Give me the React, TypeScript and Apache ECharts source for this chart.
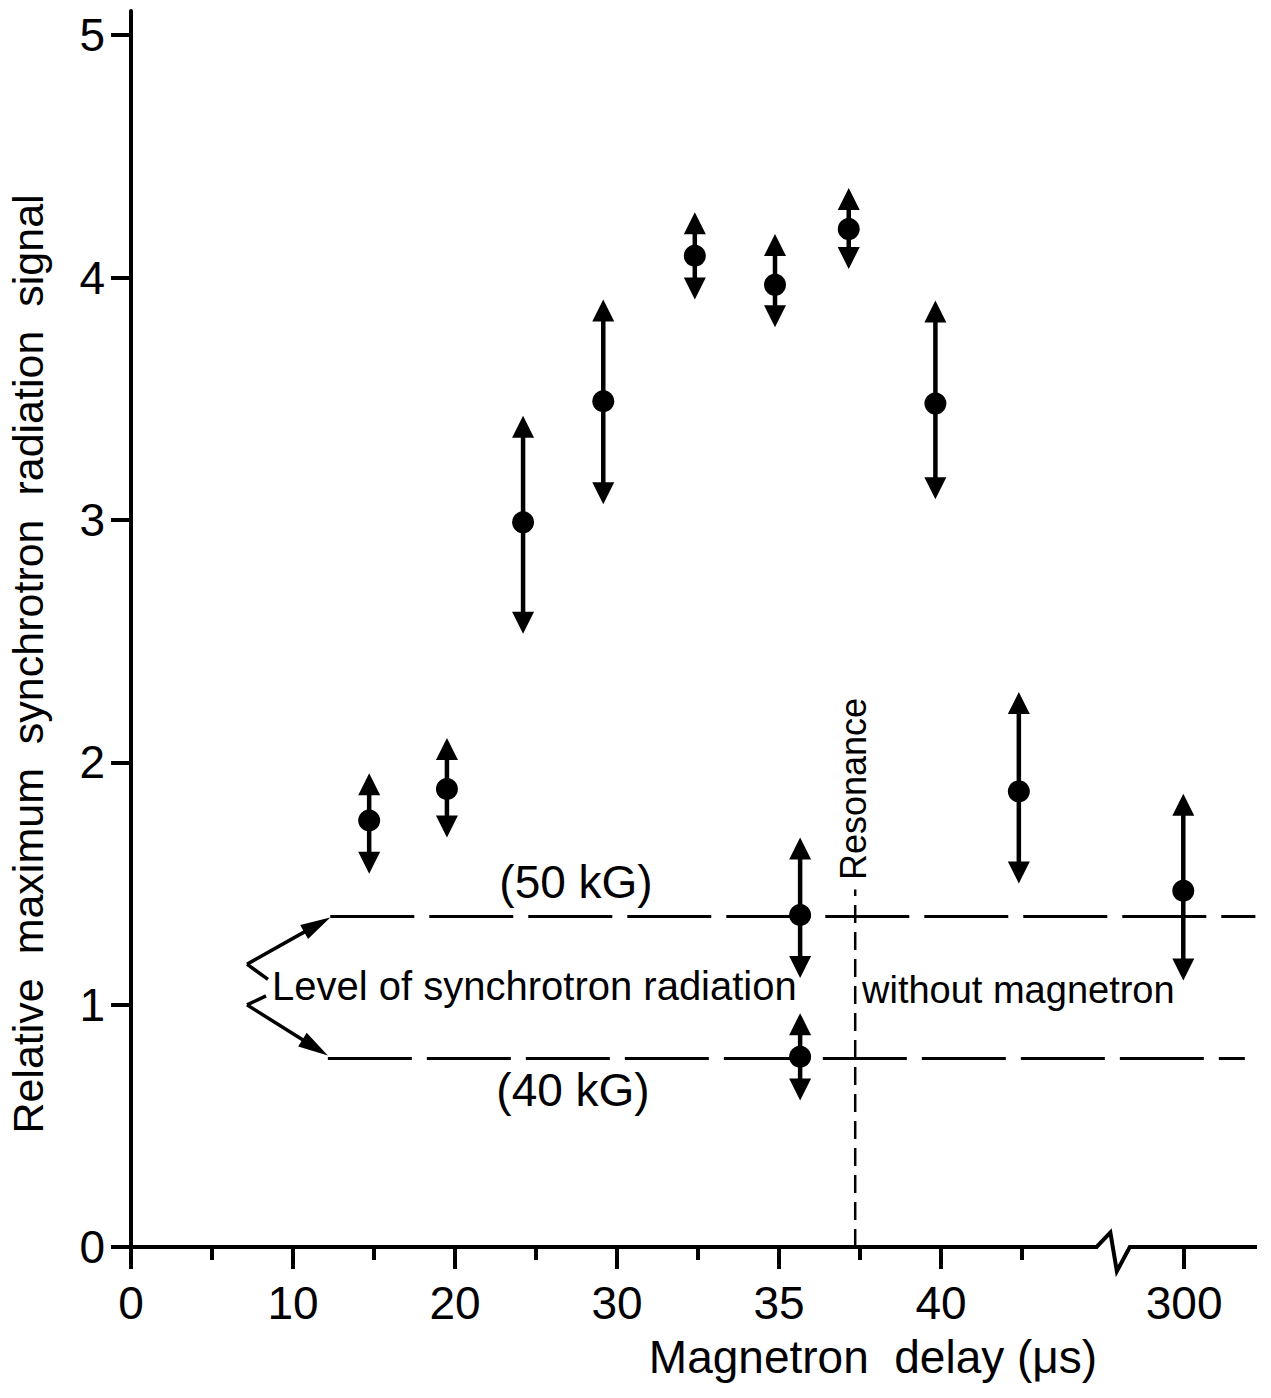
import React, { useEffect, useRef } from "react";
import * as echarts from "echarts";

// ---- data (x = slot position along the broken delay axis) ----
const xTickPositions = [0, 2, 4, 6, 8, 10, 13];
const xTickLabels = ["0", "10", "20", "30", "35", "40", "300"];
const xMinorTicks = [1, 3, 5, 7, 9, 11];
const yTicks = [0, 1, 2, 3, 4, 5];

const pointX = [2.94, 3.9, 4.84, 5.83, 6.96, 7.95, 8.86, 9.93, 10.96, 12.99, 8.26, 8.26];
const pointY = [1.76, 1.89, 2.99, 3.49, 4.09, 3.97, 4.2, 3.48, 1.88, 1.47, 1.37, 0.785];
const pointLow = [1.54, 1.69, 2.53, 3.065, 3.91, 3.795, 4.035, 3.085, 1.5, 1.1, 1.11, 0.605];
const pointHigh = [1.955, 2.1, 3.43, 3.91, 4.27, 4.18, 4.37, 3.905, 2.29, 1.87, 1.69, 0.965];

const level50 = [[2.46, 1.364], [13.88, 1.364]];
const level40 = [[2.43, 0.778], [13.75, 0.778]];
const resonance = [[8.94, 0], [8.94, 1.475]];

// bracket/arrow annotation segments: x1, y1, x2, y2, arrowhead at end (1/0)
const bracketX1 = [1.432, 1.432, 1.667, 1.432];
const bracketY1 = [1.167, 1.167, 1.036, 0.999];
const bracketX2 = [2.46, 1.691, 1.432, 2.43];
const bracketY2 = [1.36, 1.104, 0.999, 0.79];
const bracketHead = [1, 0, 0, 1];

// x axis line with break
const axisLineX = [0, 11.92, 12.09, 12.17, 12.33, 13.9];
const axisLineY = [0, 0, 0.06, -0.1, 0, 0];

const FONT = "'Liberation Sans', Arial, sans-serif";

export default function App() {
  const ref = useRef<HTMLDivElement>(null);
  useEffect(() => {
    document.body.style.margin = "0";
    const chart = echarts.init(ref.current!, null, { renderer: "svg" });
    const errData = pointX.map((x, i) => [x, pointY[i], pointLow[i], pointHigh[i]]);
    const bracketData = bracketX1.map((x, i) => [x, bracketY1[i], bracketX2[i], bracketY2[i], bracketHead[i]]);
    const axisData = [axisLineX.map((x, i) => [x, axisLineY[i]])];

    const option: any = {
      animation: false,
      backgroundColor: "#fff",
      textStyle: { fontFamily: FONT, color: "#000" },
      grid: { left: 131, right: 14, top: 11, bottom: 151, containLabel: false },
      xAxis: [
        {
          type: "value", min: 0, max: 13.9, position: "bottom",
          axisLine: { show: false },
          splitLine: { show: false },
          axisTick: { show: true, length: 22, customValues: xTickPositions, lineStyle: { color: "#000", width: 4 } },
          axisLabel: {
            customValues: xTickPositions, margin: 33, fontSize: 46, color: "#000", fontFamily: FONT,
            formatter: (v: number) => xTickLabels[xTickPositions.indexOf(v)] ?? "",
          },
        },
        {
          type: "value", min: 0, max: 13.9, position: "bottom",
          axisLine: { show: false },
          splitLine: { show: false },
          axisTick: { show: true, length: 13, customValues: xMinorTicks, lineStyle: { color: "#000", width: 4 } },
          axisLabel: { show: false },
        },
      ],
      yAxis: {
        type: "value", min: 0, max: 5.1,
        axisLine: { show: true, lineStyle: { color: "#000", width: 4 } },
        splitLine: { show: false },
        axisTick: { show: true, length: 20, customValues: yTicks, lineStyle: { color: "#000", width: 4 } },
        axisLabel: { customValues: yTicks, margin: 26, fontSize: 46, color: "#000", fontFamily: FONT },
      },
      series: [
        {
          type: "custom", name: "axis", data: axisData, clip: false, z: 3,
          renderItem: (params: any, api: any) => {
            const pts = axisLineX.map((x, i) => api.coord([x, axisLineY[i]]));
            return { type: "polyline", shape: { points: pts }, style: { stroke: "#000", lineWidth: 4, fill: "none" } };
          },
        },
        {
          type: "line", name: "50 kG", data: level50, symbol: "none", z: 2,
          lineStyle: { color: "#000", width: 3, type: [84, 15] },
        },
        {
          type: "line", name: "40 kG", data: level40, symbol: "none", z: 2,
          lineStyle: { color: "#000", width: 3, type: [84, 15] },
        },
        {
          type: "line", name: "Resonance", data: resonance, symbol: "none", z: 2,
          lineStyle: { color: "#000", width: 2.5, type: [18, 9] },
        },
        {
          type: "custom", name: "bracket", data: bracketData, clip: false, z: 4,
          renderItem: (params: any, api: any) => {
            const a = api.coord([api.value(0), api.value(1)]);
            const b = api.coord([api.value(2), api.value(3)]);
            const head = api.value(4);
            const children: any[] = [];
            const dx = b[0] - a[0], dy = b[1] - a[1];
            const len = Math.sqrt(dx * dx + dy * dy);
            const ux = dx / len, uy = dy / len;
            const hl = 30, hw = 8;
            const end = head ? [b[0] - ux * (hl - 4), b[1] - uy * (hl - 4)] : b;
            children.push({ type: "line", shape: { x1: a[0], y1: a[1], x2: end[0], y2: end[1] }, style: { stroke: "#000", lineWidth: 3.5 } });
            if (head) {
              const bx = b[0] - ux * hl, by = b[1] - uy * hl;
              children.push({
                type: "polygon",
                shape: { points: [[b[0], b[1]], [bx - uy * hw, by + ux * hw], [bx + uy * hw, by - ux * hw]] },
                style: { fill: "#000" },
              });
            }
            return { type: "group", children };
          },
        },
        {
          type: "custom", name: "signal", data: errData, clip: false, z: 5,
          renderItem: (params: any, api: any) => {
            const c = api.coord([api.value(0), api.value(1)]);
            const lo = api.coord([api.value(0), api.value(2)]);
            const hi = api.coord([api.value(0), api.value(3)]);
            const ah = 22, aw = 11;
            return {
              type: "group",
              children: [
                { type: "line", shape: { x1: c[0], y1: hi[1] + ah - 2, x2: c[0], y2: lo[1] - ah + 2 }, style: { stroke: "#000", lineWidth: 4.5 } },
                { type: "polygon", shape: { points: [[hi[0], hi[1]], [hi[0] - aw, hi[1] + ah], [hi[0] + aw, hi[1] + ah]] }, style: { fill: "#000" } },
                { type: "polygon", shape: { points: [[lo[0], lo[1]], [lo[0] - aw, lo[1] - ah], [lo[0] + aw, lo[1] - ah]] }, style: { fill: "#000" } },
                { type: "circle", shape: { cx: c[0], cy: c[1], r: 11 }, style: { fill: "#000" } },
              ],
            };
          },
        },
      ],
      graphic: [
        {
          type: "text", x: 28, y: 664, rotation: Math.PI / 2,
          style: { text: "Relative  maximum  synchrotron  radiation  signal", fontSize: 43, fontFamily: FONT, fill: "#000", align: "center", verticalAlign: "middle" },
        },
        {
          type: "text", x: 873, y: 1357,
          style: { text: "Magnetron  delay (μs)", fontSize: 46, fontFamily: FONT, fill: "#000", align: "center", verticalAlign: "middle" },
        },
        {
          type: "text", x: 576, y: 882,
          style: { text: "(50 kG)", fontSize: 46, fontFamily: FONT, fill: "#000", align: "center", verticalAlign: "middle" },
        },
        {
          type: "text", x: 573, y: 1090,
          style: { text: "(40 kG)", fontSize: 46, fontFamily: FONT, fill: "#000", align: "center", verticalAlign: "middle" },
        },
        {
          type: "text", x: 272, y: 986,
          style: { text: "Level of synchrotron radiation", fontSize: 40, fontFamily: FONT, fill: "#000", align: "left", verticalAlign: "middle" },
        },
        {
          type: "text", x: 862, y: 990,
          style: { text: "without magnetron", fontSize: 38, fontFamily: FONT, fill: "#000", align: "left", verticalAlign: "middle" },
        },
        {
          type: "text", x: 853, y: 789, rotation: Math.PI / 2,
          style: { text: "Resonance", fontSize: 36, fontFamily: FONT, fill: "#000", align: "center", verticalAlign: "middle" },
        },
      ],
    };
    chart.setOption(option);
    return () => chart.dispose();
  }, []);
  return <div ref={ref} style={{ width: 1271, height: 1398 }} />;
}
